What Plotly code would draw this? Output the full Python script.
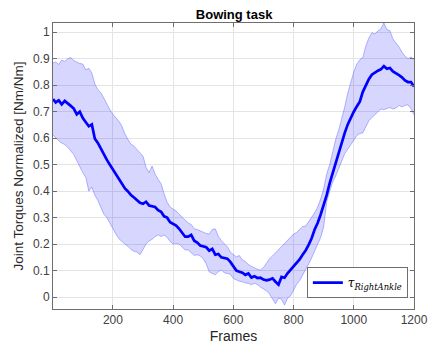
import plotly.graph_objects as go

frames = [1] + list(range(10, 1201, 10))

tau_mean = [
    0.748, 0.735, 0.743, 0.728, 0.741, 0.733, 0.722, 0.712, 0.690, 0.700,
    0.676, 0.660, 0.645, 0.652, 0.598, 0.582, 0.560, 0.537, 0.518, 0.500,
    0.482, 0.466, 0.445, 0.432, 0.410, 0.399, 0.385, 0.376, 0.364, 0.356,
    0.352, 0.360, 0.346, 0.343, 0.340, 0.328, 0.322, 0.305, 0.300, 0.283,
    0.276, 0.270, 0.258, 0.245, 0.228, 0.228, 0.235, 0.213, 0.206, 0.195,
    0.191, 0.188, 0.175, 0.182, 0.160, 0.163, 0.150, 0.146, 0.145, 0.133,
    0.118, 0.100, 0.096, 0.092, 0.084, 0.089, 0.074, 0.079, 0.072, 0.073,
    0.066, 0.063, 0.066, 0.071, 0.058, 0.047, 0.076, 0.073, 0.090, 0.103,
    0.114, 0.126, 0.142, 0.160, 0.176, 0.197, 0.222, 0.255, 0.280, 0.312,
    0.345, 0.385, 0.430, 0.468, 0.508, 0.549, 0.580, 0.620, 0.652, 0.678,
    0.700, 0.720, 0.738, 0.775, 0.802, 0.823, 0.840, 0.848, 0.855, 0.860,
    0.872, 0.862, 0.865, 0.852, 0.846, 0.838, 0.830, 0.818, 0.812, 0.812,
    0.795]

tau_upper = [
    0.884, 0.888, 0.878, 0.895, 0.890, 0.900, 0.905, 0.893, 0.888, 0.882,
    0.880, 0.858, 0.864, 0.846, 0.805, 0.783, 0.772, 0.750, 0.727, 0.708,
    0.690, 0.676, 0.664, 0.645, 0.616, 0.595, 0.577, 0.570, 0.556, 0.542,
    0.532, 0.490, 0.470, 0.495, 0.465, 0.445, 0.428, 0.390, 0.358, 0.340,
    0.332, 0.325, 0.313, 0.302, 0.290, 0.280, 0.274, 0.258, 0.255, 0.250,
    0.244, 0.240, 0.238, 0.255, 0.258, 0.230, 0.213, 0.200, 0.190, 0.170,
    0.160, 0.152, 0.157, 0.140, 0.134, 0.123, 0.116, 0.110, 0.105, 0.102,
    0.112, 0.128, 0.145, 0.155, 0.167, 0.177, 0.190, 0.200, 0.212, 0.228,
    0.238, 0.244, 0.255, 0.266, 0.268, 0.285, 0.300, 0.318, 0.340, 0.370,
    0.410, 0.465, 0.500, 0.550, 0.596, 0.631, 0.672, 0.718, 0.770, 0.812,
    0.850, 0.880, 0.896, 0.905, 0.948, 0.978, 0.998, 0.993, 1.005, 1.012,
    1.035, 1.010, 1.006, 0.975, 0.962, 0.945, 0.925, 0.910, 0.900, 0.907,
    0.894]

tau_lower = [
    0.612, 0.600, 0.590, 0.582, 0.576, 0.566, 0.550, 0.538, 0.515, 0.490,
    0.470, 0.452, 0.400, 0.415, 0.385, 0.365, 0.340, 0.313, 0.300, 0.278,
    0.256, 0.238, 0.220, 0.208, 0.200, 0.192, 0.180, 0.173, 0.170, 0.160,
    0.180, 0.200, 0.212, 0.218, 0.228, 0.235, 0.229, 0.234, 0.226, 0.210,
    0.200, 0.202, 0.200, 0.190, 0.178, 0.178, 0.168, 0.157, 0.160, 0.155,
    0.145, 0.125, 0.095, 0.090, 0.084, 0.096, 0.102, 0.092, 0.090, 0.086,
    0.070, 0.064, 0.060, 0.058, 0.053, 0.052, 0.047, 0.052, 0.047, 0.038,
    0.031, 0.024, 0.012, -0.008, -0.025, -0.004, -0.008, -0.030, -0.004, 0.004,
    0.026, 0.048, 0.062, 0.082, 0.104, 0.125, 0.148, 0.172, 0.196, 0.225,
    0.265, 0.360, 0.400, 0.435, 0.458, 0.490, 0.514, 0.542, 0.558, 0.572,
    0.592, 0.610, 0.618, 0.620, 0.645, 0.666, 0.678, 0.690, 0.702, 0.710,
    0.708, 0.712, 0.716, 0.710, 0.714, 0.724, 0.718, 0.724, 0.726, 0.712,
    0.688]

x_ticks = [200, 400, 600, 800, 1000, 1200]
y_ticks = [0, 0.1, 0.2, 0.3, 0.4, 0.5, 0.6, 0.7, 0.8, 0.9, 1]

band_line = dict(color="rgba(90,90,255,0.55)", width=0.8)

fig = go.Figure()
fig.add_trace(go.Scatter(x=frames, y=tau_lower, mode="lines", line=band_line,
                         showlegend=False, hoverinfo="skip"))
fig.add_trace(go.Scatter(x=frames, y=tau_upper, mode="lines", line=band_line,
                         fill="tonexty", fillcolor="rgba(0,0,255,0.16)",
                         showlegend=False, hoverinfo="skip"))
fig.add_trace(go.Scatter(x=frames, y=tau_mean, mode="lines",
                         line=dict(color="#0000ff", width=2.7),
                         name="<i>τ</i><sub><i>RightAnkle</i></sub>"))

axis_common = dict(showgrid=True, gridcolor="#e4e4e4", gridwidth=1,
                   showline=True, linecolor="#6e6e6e", linewidth=1, mirror="allticks",
                   ticks="inside", ticklen=4, tickcolor="#6e6e6e", automargin=False,
                   tickfont=dict(family="Liberation Sans, Arial", size=12, color="#404040"),
                   zeroline=False)

fig.update_layout(
    width=428, height=351,
    margin=dict(l=53, r=14, t=23, b=42, autoexpand=False),
    paper_bgcolor="white", plot_bgcolor="white",
    title=dict(text="<b>Bowing task</b>", x=0.547, xanchor="center", y=0.96, yanchor="middle",
               font=dict(family="Liberation Sans, Arial", size=13, color="#000000")),
    xaxis=dict(range=[1, 1200], tickvals=x_ticks,
               title=dict(text="Frames", standoff=4,
                          font=dict(family="Liberation Sans, Arial", size=14, color="#262626")),
               **axis_common),
    yaxis=dict(range=[-0.045, 1.035], tickvals=y_ticks,
               ticktext=[str(v) for v in y_ticks],
               title=dict(text="Joint Torques Normalized [Nm/Nm]", standoff=6,
                          font=dict(family="Liberation Sans, Arial", size=13.5, color="#262626")),
               **axis_common),
    legend=dict(x=0.983, y=0.038, xanchor="right", yanchor="bottom",
                bgcolor="white", bordercolor="#6e6e6e", borderwidth=1,
                font=dict(family="DejaVu Serif, Liberation Serif, serif", size=12, color="#000000"),
                itemwidth=30, tracegroupgap=0),
)

fig.write_html("out.html")
